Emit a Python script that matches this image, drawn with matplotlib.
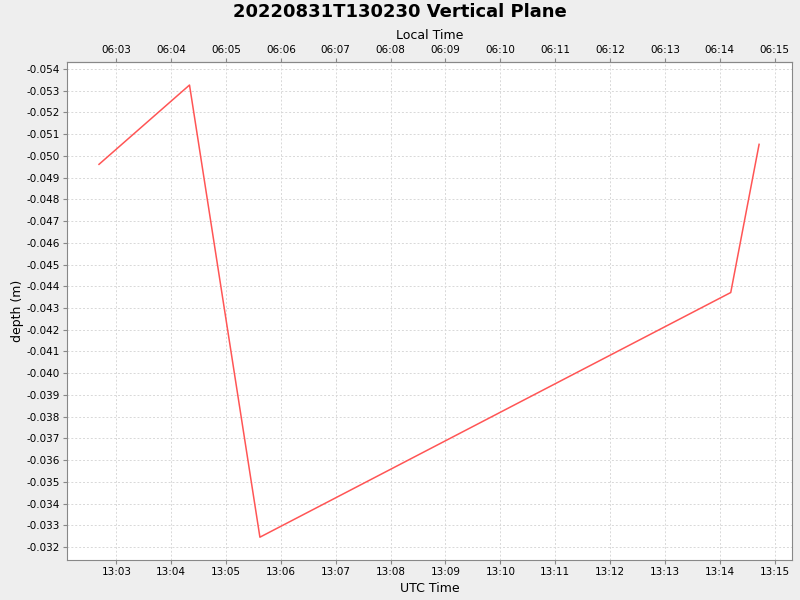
import matplotlib
matplotlib.use("Agg")
import matplotlib.pyplot as plt
import matplotlib.dates as mdates
import numpy as np
from datetime import datetime

# -----------------------------
# data
# -----------------------------
times = ["2022-08-31 13:02:41", "2022-08-31 13:04:20", "2022-08-31 13:05:37",
         "2022-08-31 13:14:12", "2022-08-31 13:14:43"]
depth = [-0.04961, -0.05326, -0.03245, -0.04371, -0.05053]
local_offset_hours = -7

title = "20220831T130230 Vertical Plane"

t = [mdates.date2num(datetime.strptime(s, "%Y-%m-%d %H:%M:%S")) for s in times]

# -----------------------------
# figure
# -----------------------------
fig = plt.figure(figsize=(8, 6), dpi=100)
fig.patch.set_facecolor("#eeeeee")
ax = fig.add_axes([67 / 800, 40 / 600, 725 / 800, 498 / 600])
ax.set_facecolor("white")

ax.plot(t, depth, color="#ff5555", linewidth=1.1)

xmin = mdates.date2num(datetime(2022, 8, 31, 13, 2, 6))
xmax = mdates.date2num(datetime(2022, 8, 31, 13, 15, 19))
ax.set_xlim(xmin, xmax)
ax.set_ylim(-0.0314, -0.05432)

ax.xaxis.set_major_locator(mdates.MinuteLocator())
ax.xaxis.set_major_formatter(mdates.DateFormatter("%H:%M"))
ax.yaxis.set_major_locator(plt.MultipleLocator(0.001))
ax.yaxis.set_major_formatter(plt.FormatStrFormatter("%.3f"))

ax.grid(True, linestyle=(0, (2, 2)), color="#d8d8d8", linewidth=0.7)

for s in ax.spines.values():
    s.set_color("#888888")
ax.tick_params(axis="both", labelsize=7.5, length=3, color="#888888", pad=2)

# top axis: local time
off = local_offset_hours / 24.0
top = ax.secondary_xaxis("top", functions=(lambda x: x + off, lambda x: x - off))
top.xaxis.set_major_locator(mdates.MinuteLocator())
top.xaxis.set_major_formatter(mdates.DateFormatter("%H:%M"))
top.tick_params(labelsize=7.5, length=3, color="#888888", pad=2)
top.spines["top"].set_color("#888888")
top.set_xlabel("Local Time", fontsize=9, labelpad=4)

ax.set_xlabel("UTC Time", fontsize=9, labelpad=4)
ax.set_ylabel("depth (m)", fontsize=9, labelpad=2)

fig.text(0.5, 1 - 12 / 600, title, ha="center", va="center",
         fontsize=13, fontweight="bold")

plt.savefig("out.png", dpi=100, facecolor=fig.get_facecolor())
plt.close()
